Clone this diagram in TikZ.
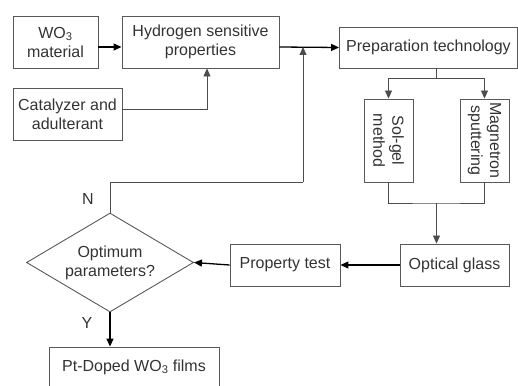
\documentclass[tikz,border=0pt]{standalone}
\usepackage{fontspec}
\setmainfont{Liberation Sans}
\usetikzlibrary{arrows.meta,shapes.geometric}
\begin{document}
\begin{tikzpicture}[x=1pt,y=-1pt,
  every node/.style={font=\fontsize{16}{19}\selectfont, text=black!80},
  box/.style={draw=black!65, line width=0.9pt, inner sep=0pt, align=center},
  thin/.style={draw=black!70, line width=0.8pt},
  thickarr/.style={draw=black, line width=1.3pt, -{Triangle[length=8pt,width=7pt]}},
  thinarr/.style={draw=black!70, line width=0.8pt, -{Triangle[length=8pt,width=7pt]}}]
\useasboundingbox (0,0) rectangle (518,385);
\node[box, minimum width=85, minimum height=52] (wo) at (55.5,42) {WO\textsubscript{3}\\material};
\node[box, minimum width=157, minimum height=52] (hy) at (200.5,42) {Hydrogen sensitive\\properties};
\node[box, minimum width=109, minimum height=52] (cat) at (67.5,114) {Catalyzer and\\adulterant};
\node[box, minimum width=178, minimum height=41] (prep) at (428.5,47.5) {Preparation technology};
\node[box, minimum width=49, minimum height=83] (sol) at (388.5,140.5) {};
\node[rotate=-90, align=center] (solt) at (sol.center) {Sol-gel\\method};
\node[box, minimum width=49, minimum height=83] (mag) at (484.5,140.5) {};
\node[rotate=-90, align=center] (magt) at (mag.center) {Magnetron\\sputtering};
\node[box, minimum width=109, minimum height=42] (opt) at (454.5,265) {Optical glass};
\node[box, minimum width=110, minimum height=42] (prop) at (285,265) {Property test};
\node[box, diamond, shape aspect=1.69, minimum width=167, minimum height=99] (dia) at (110,262.5) {Optimum\\parameters?};
\node[box, minimum width=170, minimum height=40] (pt) at (134,367) {Pt-Doped WO\textsubscript{3} films};
\node (nl) at (88,199) {N};
\node (yl) at (87,323) {Y};
% connectors
\draw[thickarr] ([yshift=-5pt]wo.east) -- ([yshift=-5pt]hy.west);
\coordinate (catj) at (207,109);
\draw[thinarr] (cat.east |- catj) -- (catj) -- (catj |- hy.south);
\draw[thickarr] ([yshift=-5pt]hy.east) -- (prep.west);
\coordinate (fb1) at (110,182);
\coordinate (fb2) at (303,182);
\coordinate (fb3) at (303,47);
\draw[thin] (dia.north) -- (fb1) -- (fb2);
\draw[thinarr] (fb2) -- (fb3);
\coordinate (splitc) at (436.5,78);
\draw[thin] (prep.south -| splitc) -- (splitc);
\draw[thinarr] (splitc) -| (sol.north);
\draw[thinarr] (splitc) -| (mag.north);
\coordinate (joinc) at (436.5,203);
\draw[thin] (sol.south) |- (joinc) -| (mag.south);
\draw[thinarr] (joinc) -- (joinc |- opt.north);
\draw[thickarr] (opt.west) -- (prop.east);
\draw[thickarr] (prop.west) -- (dia.east);
\draw[thickarr] (dia.south) -- (dia.south |- pt.north);
\end{tikzpicture}
\end{document}
